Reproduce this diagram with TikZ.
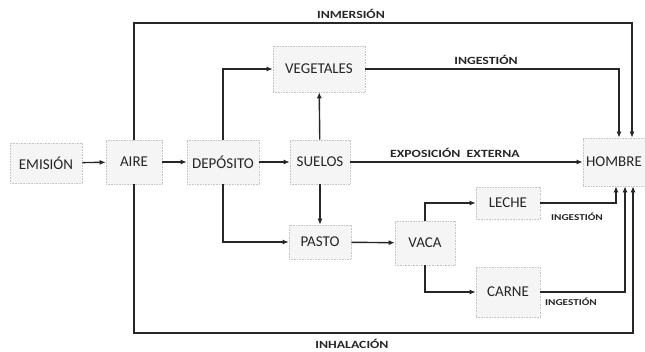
\documentclass[tikz,border=0pt]{standalone}
\usepackage{fontspec}
\setmainfont{Carlito}
\newfontfamily\labfont[FakeStretch=1.25]{Carlito}
\usetikzlibrary{arrows.meta,calc}
\begin{document}
\begin{tikzpicture}[x=1pt,y=-1pt,
  box/.style={fill=gray!8,draw=gray!45,densely dotted,line width=0.6pt,inner sep=0pt,
    text=black!85,font=\fontsize{15}{15}\selectfont},
  arr/.style={line width=1.4pt,draw=black!85,-{Latex[length=6pt,width=5pt]}},
  lab/.style={font=\labfont\bfseries\fontsize{11}{11}\selectfont,text=black!85,inner sep=1pt},
  slab/.style={font=\labfont\bfseries\fontsize{9}{9}\selectfont,text=black!85,inner sep=1pt}]
\useasboundingbox (0,0) rectangle (645,352);
% nodes
\node[box,minimum width=72,minimum height=40] (emision) at (46,163) {EMISIÓN};
\node[box,minimum width=56,minimum height=44] (aire) at (134,162) {AIRE};
\node[box,minimum width=72,minimum height=44] (deposito) at (223,162) {DEPÓSITO};
\node[box,minimum width=60,minimum height=44] (suelos) at (320,162) {SUELOS};
\node[box,minimum width=92,minimum height=46] (vegetales) at (319,69) {VEGETALES};
\node[box,minimum width=62,minimum height=48] (hombre) at (614,162) {HOMBRE};
\node[box,minimum width=62,minimum height=34] (pasto) at (320,242) {PASTO};
\node[box,minimum width=60,minimum height=44] (vaca) at (425,243) {VACA};
\node[box,minimum width=64,minimum height=32] (leche) at (508,203) {LECHE};
\node[box,minimum width=64,minimum height=50] (carne) at (508,292) {CARNE};
% helper levels
\coordinate (topY) at (0,23);
\coordinate (botY) at (0,333);
% main chain
\draw[arr] (emision) -- (aire);
\draw[arr] (aire) -- (deposito);
\draw[arr] (deposito) -- (suelos);
\draw[arr] (suelos) -- (vegetales);
\draw[arr] (suelos) -- (pasto);
\draw[arr] (deposito.north) |- (vegetales.west);
\draw[arr] (deposito.south) |- (pasto.west);
\draw[arr] (pasto) -- (vaca);
\draw[arr] (vaca.north) |- (leche.west);
\draw[arr] (vaca.south) |- (carne.west);
\draw[arr] (suelos) -- node[lab,above=3pt,pos=0.45]{EXPOSICIÓN\ \ EXTERNA} (hombre);
% to hombre
\draw[arr] (aire.north) -- (aire.north |- topY) -| ([xshift=18pt]hombre.north);
\draw[arr] (vegetales.east) -| ([xshift=5pt]hombre.north);
\draw[arr] (leche.east) -| ([xshift=2pt]hombre.south);
\draw[arr] (carne.east) -| ([xshift=11pt]hombre.south);
\draw[arr] (aire.south) -- (aire.south |- botY) -| ([xshift=19pt]hombre.south);
% labels
\node[lab] (linm) at (351,14) {INMERSIÓN};
\node[lab] (ling) at (486,60) {INGESTIÓN};
\node[slab] (ling2) at (577,217) {INGESTIÓN};
\node[slab] (ling3) at (571,302) {INGESTIÓN};
\node[lab] (linh) at (352,344) {INHALACIÓN};
\end{tikzpicture}
\end{document}
